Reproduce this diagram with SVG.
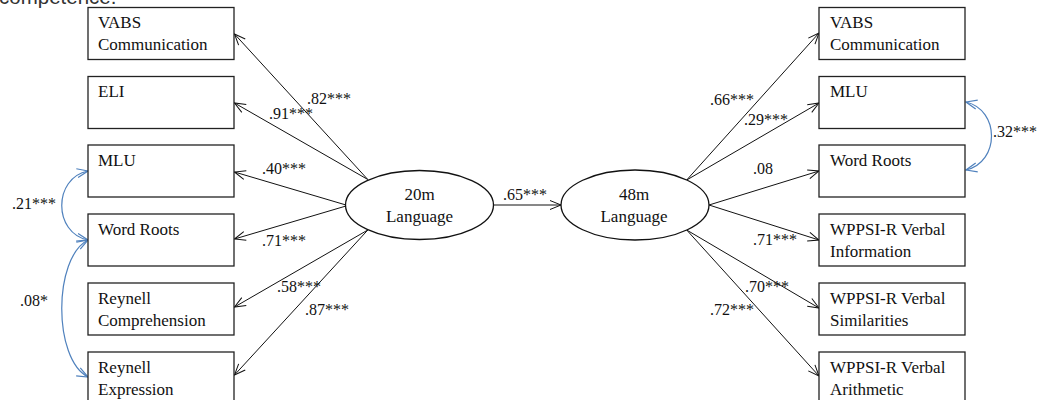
<svg xmlns="http://www.w3.org/2000/svg" width="1043" height="400" viewBox="0 0 1043 400">
<style>
  .box { fill: #fff; stroke: #222; stroke-width: 1.3; }
  .ell { fill: #fff; stroke: #111; stroke-width: 1.3; }
  .t { font-family: "Liberation Serif", "Times New Roman", serif; font-size: 17px; fill: #111; }
  .c { text-anchor: middle; }
  .lbl { font-family: "Liberation Serif", "Times New Roman", serif; font-size: 16px; fill: #111; }
  .arr { stroke: #111; stroke-width: 1; fill: none; marker-end: url(#ah); }
  .cov { stroke: #4f81bd; stroke-width: 1.2; fill: none; marker-start: url(#bh); marker-end: url(#bh); }
</style>
<defs>
  <marker id="ah" markerUnits="userSpaceOnUse" markerWidth="14" markerHeight="12" refX="12" refY="6" orient="auto">
    <path d="M1,1.5 L12,6 L1,10.5" fill="none" stroke="#111" stroke-width="1"/>
  </marker>
  <marker id="bh" markerUnits="userSpaceOnUse" markerWidth="14" markerHeight="12" refX="12" refY="6" orient="auto-start-reverse">
    <path d="M1,1.5 L12,6 L1,10.5" fill="none" stroke="#4f81bd" stroke-width="1.2"/>
  </marker>
</defs>
<rect width="1043" height="400" fill="#fff"/>
<text x="-1" y="4" font-family="Liberation Sans, Arial, sans-serif" font-size="20.5" fill="#333">competence.</text>

<g id="connectors">
  <line class="arr" x1="367.8" y1="179.5" x2="234.5" y2="34"/>
  <line class="arr" x1="367.8" y1="179.5" x2="234.5" y2="103"/>
  <line class="arr" x1="346" y1="205" x2="234.5" y2="172"/>
  <line class="arr" x1="346" y1="206" x2="234.5" y2="239"/>
  <line class="arr" x1="367.8" y1="230" x2="234.5" y2="307"/>
  <line class="arr" x1="367.8" y1="230" x2="234.5" y2="375"/>
  <line class="arr" x1="493.5" y1="205" x2="561" y2="205"/>
  <line class="arr" x1="686.7" y1="180" x2="819" y2="33"/>
  <line class="arr" x1="686.7" y1="180" x2="819" y2="103"/>
  <line class="arr" x1="709" y1="205" x2="819" y2="171"/>
  <line class="arr" x1="709" y1="205" x2="819" y2="240"/>
  <line class="arr" x1="686.7" y1="230" x2="819" y2="308"/>
  <line class="arr" x1="686.7" y1="230" x2="819" y2="376"/>
  <path class="cov" d="M88,171 C53,178 53,233 88,240"/>
  <path class="cov" d="M88,240 C53,258 53,359 88,377"/>
  <path class="cov" d="M966,102 C1000,110 1000,162 966,170"/>
  <text class="lbl" x="307" y="104">.82***</text>
  <text class="lbl" x="269" y="119">.91***</text>
  <text class="lbl" x="262" y="174">.40***</text>
  <text class="lbl" x="262" y="246">.71***</text>
  <text class="lbl" x="277" y="292">.58***</text>
  <text class="lbl" x="305" y="315">.87***</text>
  <text class="lbl" x="503" y="200">.65***</text>
  <text class="lbl" x="710" y="105">.66***</text>
  <text class="lbl" x="744" y="125">.29***</text>
  <text class="lbl" x="753" y="174">.08</text>
  <text class="lbl" x="753" y="245">.71***</text>
  <text class="lbl" x="745" y="292">.70***</text>
  <text class="lbl" x="710" y="315">.72***</text>
  <text class="lbl" x="993" y="137">.32***</text>
  <text class="lbl" x="12" y="209">.21***</text>
  <text class="lbl" x="20" y="306">.08*</text>
</g>

<g id="l-vabs"><rect class="box" x="88" y="7.5" width="146" height="52"/><text class="t" x="98" y="28">VABS</text><text class="t" x="98" y="50">Communication</text></g>
<g id="l-eli"><rect class="box" x="88" y="76.5" width="146" height="52"/><text class="t" x="98" y="97">ELI</text></g>
<g id="l-mlu"><rect class="box" x="88" y="145" width="146" height="52"/><text class="t" x="98" y="165.5">MLU</text></g>
<g id="l-wr"><rect class="box" x="88" y="214" width="146" height="52"/><text class="t" x="98" y="234.5">Word Roots</text></g>
<g id="l-rc"><rect class="box" x="88" y="283" width="146" height="52"/><text class="t" x="98" y="303.5">Reynell</text><text class="t" x="98" y="325.5">Comprehension</text></g>
<g id="l-re"><rect class="box" x="88" y="352" width="146" height="52"/><text class="t" x="98" y="372.5">Reynell</text><text class="t" x="98" y="394.5">Expression</text></g>

<g id="lang20"><ellipse class="ell" cx="419.5" cy="205" rx="74" ry="34.5"/><text class="t c" x="419.5" y="200">20m</text><text class="t c" x="419.5" y="222">Language</text></g>
<g id="lang48"><ellipse class="ell" cx="635" cy="205" rx="74" ry="35"/><text class="t c" x="634" y="200">48m</text><text class="t c" x="634" y="222">Language</text></g>

<g id="r-vabs"><rect class="box" x="819" y="7.5" width="146" height="52"/><text class="t" x="830" y="28">VABS</text><text class="t" x="830" y="50">Communication</text></g>
<g id="r-mlu"><rect class="box" x="819" y="76.5" width="146" height="52"/><text class="t" x="830" y="97">MLU</text></g>
<g id="r-wr"><rect class="box" x="819" y="145" width="146" height="52"/><text class="t" x="830" y="165.5">Word Roots</text></g>
<g id="r-info"><rect class="box" x="819" y="214" width="146" height="52"/><text class="t" x="830" y="234.5">WPPSI-R Verbal</text><text class="t" x="830" y="256.5">Information</text></g>
<g id="r-sim"><rect class="box" x="819" y="283" width="146" height="52"/><text class="t" x="830" y="303.5">WPPSI-R Verbal</text><text class="t" x="830" y="325.5">Similarities</text></g>
<g id="r-arith"><rect class="box" x="819" y="352" width="146" height="52"/><text class="t" x="830" y="372.5">WPPSI-R Verbal</text><text class="t" x="830" y="394.5">Arithmetic</text></g>
</svg>
